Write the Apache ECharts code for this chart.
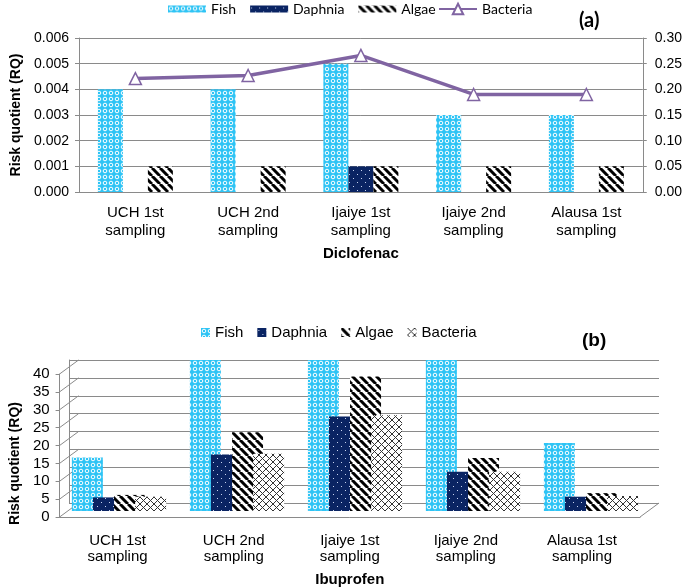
<!DOCTYPE html>
<html>
<head>
<meta charset="utf-8">
<script src="https://cdn.jsdelivr.net/npm/echarts@6/dist/echarts.min.js"></script>
<style>
  html, body { margin: 0; padding: 0; background: #fff; }
  #main { width: 685px; height: 588px; }
</style>
</head>
<body>
<div id="main"></div>
<script>
// sampling points, shared by both panels
const categories = ['UCH 1st\nsampling', 'UCH 2nd\nsampling', 'Ijaiye 1st\nsampling', 'Ijaiye 2nd\nsampling', 'Alausa 1st\nsampling'];

// (a) Diclofenac
const diclofenacFish = [0.004, 0.004, 0.005, 0.003, 0.003];
const diclofenacDaphnia = [0, 0, 0.001, 0, 0];
const diclofenacAlgae = [0.001, 0.001, 0.001, 0.001, 0.001];
const diclofenacBacteria = [0.221, 0.227, 0.266, 0.19, 0.19];

// (b) Ibuprofen (fish above 40 is cut off by the chart wall)
const ibuprofenFish = [15, 44, 44, 44, 19];
const ibuprofenDaphnia = [3.8, 15.8, 26.4, 11, 4];
const ibuprofenAlgae = [4.5, 22, 37.6, 14.8, 5];
const ibuprofenBacteria = [4, 16, 26.8, 11, 4.2];
const ibuprofenTicks = [0, 5, 10, 15, 20, 25, 30, 35, 40];

const GRID_COLOR = '#8a8a8a';
const DEPTH_X = 19, DEPTH_Y = -14;

function tile(w, h, draw) {
    const c = document.createElement('canvas');
    c.width = w;
    c.height = h;
    draw(c.getContext('2d'), w, h);
    return {image: c, repeat: 'repeat'};
}

const fishFill = tile(6, 6, function (ctx) {
    ctx.fillStyle = '#2ec4f5';
    ctx.fillRect(0, 0, 6, 6);
    ctx.strokeStyle = '#ffffff';
    ctx.lineWidth = 1;
    ctx.beginPath();
    ctx.arc(3, 3, 1.8, 0, Math.PI * 2);
    ctx.stroke();
});

const daphniaFill = tile(8, 8, function (ctx) {
    ctx.fillStyle = '#0a2463';
    ctx.fillRect(0, 0, 8, 8);
    ctx.fillStyle = '#c8d4f0';
    ctx.fillRect(1, 2, 1, 1);
    ctx.fillRect(5, 6, 1, 1);
});

const algaeFill = tile(8, 8, function (ctx) {
    ctx.fillStyle = '#ffffff';
    ctx.fillRect(0, 0, 8, 8);
    ctx.strokeStyle = '#000000';
    ctx.lineWidth = 3;
    ctx.beginPath();
    for (let k = -8; k <= 8; k += 8) {
        ctx.moveTo(k, 0);
        ctx.lineTo(k + 8, 8);
    }
    ctx.stroke();
});

const hatchFill = tile(7, 7, function (ctx) {
    ctx.fillStyle = '#ffffff';
    ctx.fillRect(0, 0, 7, 7);
    ctx.strokeStyle = '#333333';
    ctx.lineWidth = 1;
    ctx.beginPath();
    ctx.moveTo(0, 0); ctx.lineTo(7, 7);
    ctx.moveTo(0, 7); ctx.lineTo(7, 0);
    ctx.stroke();
});

const arial = 'Liberation Sans, Arial, sans-serif';
const calibri = 'Lato, Liberation Sans, sans-serif';

// side walls of the pseudo 3d panel (b)
function renderWalls(params, api) {
    const cs = params.coordSys;
    const v = api.value(0);
    const y = api.coord([0, v])[1];
    const lines = [{
        type: 'line',
        shape: {x1: cs.x, y1: y, x2: cs.x + DEPTH_X, y2: y + DEPTH_Y},
        style: {stroke: GRID_COLOR, lineWidth: 1}
    }];
    if (v === 0) {
        lines.push({
            type: 'line',
            shape: {x1: cs.x + cs.width, y1: y, x2: cs.x + cs.width + DEPTH_X, y2: y + DEPTH_Y},
            style: {stroke: GRID_COLOR, lineWidth: 1}
        });
    }
    return {type: 'group', children: lines};
}

const myChart = echarts.init(document.getElementById('main'));

const option = {
    backgroundColor: '#fff',
    animation: false,
    title: [
        {text: '(a)', left: 574, top: 6, textStyle: {fontFamily: calibri, fontSize: 20, fontWeight: 'bold', color: '#000'}},
        {text: '(b)', left: 577, top: 326, textStyle: {fontFamily: arial, fontSize: 19, fontWeight: 'bold', color: '#000'}}
    ],
    legend: [
        {
            left: 163, top: -3, itemWidth: 38, itemHeight: 7, itemGap: 14, icon: 'rect',
            data: ['Fish', 'Daphnia', 'Algae'],
            textStyle: {fontFamily: calibri, fontSize: 14, color: '#000'}
        },
        {
            left: 433, top: -3, itemWidth: 38, itemHeight: 13,
            data: ['Bacteria'],
            textStyle: {fontFamily: calibri, fontSize: 14, color: '#000'}
        },
        {
            left: 196, top: 320, itemWidth: 9, itemHeight: 9, itemGap: 14, icon: 'rect',
            data: [
                {name: 'Fish', itemStyle: {color: fishFill}},
                {name: 'Daphnia', itemStyle: {color: daphniaFill}},
                {name: 'Algae', itemStyle: {color: algaeFill}},
                {name: 'Bacteria', itemStyle: {color: hatchFill, borderWidth: 0}}
            ],
            textStyle: {fontFamily: arial, fontSize: 15, color: '#000'}
        }
    ],
    grid: [
        {left: 79, top: 38, width: 565, height: 154},   // (a)
        {left: 69, top: 360, width: 590, height: 143},  // (b) back wall
        {left: 60, top: 360, width: 590, height: 151},  // (b) bars
        {left: 50, top: 374, width: 590, height: 143}   // (b) front edge
    ],
    xAxis: [
        {
            gridIndex: 0, type: 'category', data: categories,
            axisLine: {lineStyle: {color: GRID_COLOR}}, axisTick: {show: false},
            axisLabel: {fontFamily: arial, fontSize: 15, color: '#000', lineHeight: 18, margin: 12, interval: 0},
            name: 'Diclofenac', nameLocation: 'middle', nameGap: 54,
            nameTextStyle: {fontFamily: arial, fontSize: 15, fontWeight: 'bold', color: '#000'}
        },
        {gridIndex: 1, type: 'category', data: categories, show: false},
        {gridIndex: 2, type: 'category', data: categories, show: false},
        {
            gridIndex: 3, type: 'category', data: categories,
            axisLine: {lineStyle: {color: GRID_COLOR}}, axisTick: {show: false},
            axisLabel: {fontFamily: arial, fontSize: 15, color: '#000', lineHeight: 16, margin: 16, interval: 0},
            name: 'Ibuprofen', nameLocation: 'middle', nameGap: 55,
            nameTextStyle: {fontFamily: arial, fontSize: 15, fontWeight: 'bold', color: '#000'}
        }
    ],
    yAxis: [
        {
            gridIndex: 0, type: 'value', min: 0, max: 0.006, interval: 0.001,
            axisLine: {show: true, lineStyle: {color: GRID_COLOR}},
            axisTick: {show: true, length: 4, lineStyle: {color: GRID_COLOR}},
            splitLine: {lineStyle: {color: GRID_COLOR}},
            axisLabel: {fontFamily: arial, fontSize: 14, color: '#000', margin: 10, formatter: v => v.toFixed(3)},
            name: 'Risk quotient (RQ)', nameLocation: 'middle', nameGap: 53,
            nameTextStyle: {fontFamily: arial, fontSize: 14, fontWeight: 'bold', color: '#000'}
        },
        {
            gridIndex: 0, type: 'value', position: 'right', min: 0, max: 0.3, interval: 0.05,
            axisLine: {show: true, lineStyle: {color: GRID_COLOR}},
            axisTick: {show: true, length: 4, lineStyle: {color: GRID_COLOR}},
            splitLine: {show: false},
            axisLabel: {fontFamily: arial, fontSize: 14, color: '#000', margin: 12, formatter: v => v.toFixed(2)}
        },
        {
            gridIndex: 1, type: 'value', min: 0, max: 40, interval: 5,
            axisLine: {show: true, lineStyle: {color: GRID_COLOR}},
            axisTick: {show: false}, axisLabel: {show: false},
            splitLine: {lineStyle: {color: GRID_COLOR}}
        },
        {gridIndex: 2, type: 'value', min: 0, max: 151 / 143 * 40, show: false, splitLine: {show: false}},
        {
            gridIndex: 3, type: 'value', min: 0, max: 40, interval: 5,
            axisLine: {show: true, lineStyle: {color: GRID_COLOR}},
            axisTick: {show: true, length: 4, lineStyle: {color: GRID_COLOR}},
            splitLine: {show: false},
            axisLabel: {fontFamily: arial, fontSize: 15, color: '#000', margin: 10},
            name: 'Risk quotient (RQ)', nameLocation: 'middle', nameGap: 24,
            nameTextStyle: {fontFamily: arial, fontSize: 14, fontWeight: 'bold', color: '#000', padding: [0, 36, 0, 0]}
        }
    ],
    series: [
        // (a)
        {name: 'Fish', type: 'bar', xAxisIndex: 0, yAxisIndex: 0, barWidth: 25, barGap: 0,
            itemStyle: {color: fishFill}, data: diclofenacFish},
        {name: 'Daphnia', type: 'bar', xAxisIndex: 0, yAxisIndex: 0, barWidth: 25, barGap: 0,
            itemStyle: {color: daphniaFill}, data: diclofenacDaphnia},
        {name: 'Algae', type: 'bar', xAxisIndex: 0, yAxisIndex: 0, barWidth: 25, barGap: 0,
            itemStyle: {color: algaeFill}, data: diclofenacAlgae},
        {name: 'Bacteria', type: 'line', xAxisIndex: 0, yAxisIndex: 1,
            symbol: 'triangle', symbolSize: 12, z: 5,
            lineStyle: {color: '#8064a2', width: 3.5},
            itemStyle: {color: '#ffffff', borderColor: '#8064a2', borderWidth: 1.5},
            data: diclofenacBacteria},
        // (b)
        {type: 'custom', xAxisIndex: 3, yAxisIndex: 4, silent: true, z: 1,
            encode: {y: 0}, renderItem: renderWalls, data: ibuprofenTicks},
        {name: 'Fish', type: 'bar', xAxisIndex: 2, yAxisIndex: 3, barWidth: 31, barGap: '-32%',
            itemStyle: {color: fishFill}, data: ibuprofenFish},
        {name: 'Daphnia', type: 'bar', xAxisIndex: 2, yAxisIndex: 3, barWidth: 31, barGap: '-32%',
            itemStyle: {color: daphniaFill}, data: ibuprofenDaphnia},
        {name: 'Algae', type: 'bar', xAxisIndex: 2, yAxisIndex: 3, barWidth: 31, barGap: '-32%',
            itemStyle: {color: algaeFill}, data: ibuprofenAlgae},
        {name: 'Bacteria', type: 'bar', xAxisIndex: 2, yAxisIndex: 3, barWidth: 31, barGap: '-32%',
            itemStyle: {color: hatchFill}, data: ibuprofenBacteria}
    ]
};

myChart.setOption(option);
</script>
</body>
</html>
